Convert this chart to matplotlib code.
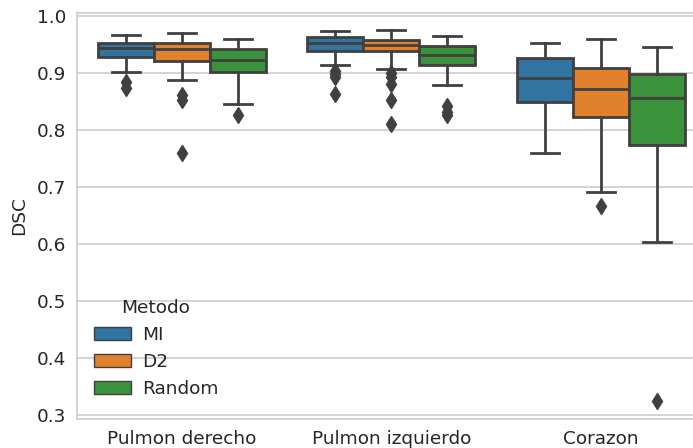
import matplotlib
matplotlib.use("Agg")
import matplotlib.pyplot as plt
import matplotlib.patches as mpatches
import numpy as np

# ---- data ----
organs = ["Pulmon derecho", "Pulmon izquierdo", "Corazon"]
methods = ["MI", "D2", "Random"]
colors = ["#3274a1", "#e1812c", "#3a923a"]

# per organ, per method
whislo = [[0.902, 0.889, 0.846],
          [0.915, 0.908, 0.879],
          [0.760, 0.692, 0.603]]
q1 = [[0.928, 0.921, 0.902],
      [0.940, 0.939, 0.915],
      [0.849, 0.823, 0.775]]
med = [[0.944, 0.943, 0.923],
       [0.954, 0.950, 0.933],
       [0.892, 0.872, 0.857]]
q3 = [[0.954, 0.953, 0.942],
      [0.964, 0.959, 0.948],
      [0.927, 0.909, 0.898]]
whishi = [[0.968, 0.971, 0.961],
          [0.974, 0.977, 0.965],
          [0.954, 0.961, 0.947]]
fliers = [[[0.885, 0.875], [0.862, 0.853, 0.760], [0.826]],
          [[0.905, 0.898, 0.893, 0.863], [0.900, 0.894, 0.882, 0.853, 0.811], [0.842, 0.833, 0.827]],
          [[], [0.667], [0.325]]]
yticks = [0.3, 0.4, 0.5, 0.6, 0.7, 0.8, 0.9, 1.0]

W, H, DPI = 693, 448, 100
fig = plt.figure(figsize=(W / DPI, H / DPI), dpi=DPI)
left, right, top, bottom = 77, 77 + 3 * 209.5, 13, 419
ax = fig.add_axes([left / W, 1 - bottom / H, (right - left) / W, (bottom - top) / H])

line_c = "#404040"
lw = 2.0
bw = 0.8 / 3
for i, org in enumerate(organs):
    for j, m in enumerate(methods):
        pos = i + (j - 1) * bw
        stats = [dict(med=med[i][j], q1=q1[i][j], q3=q3[i][j],
                      whislo=whislo[i][j], whishi=whishi[i][j],
                      fliers=fliers[i][j], label=m)]
        ax.bxp(stats, positions=[pos], widths=bw, patch_artist=True,
               manage_ticks=False,
               boxprops=dict(facecolor=colors[j], edgecolor=line_c, linewidth=lw),
               medianprops=dict(color=line_c, linewidth=lw),
               whiskerprops=dict(color=line_c, linewidth=lw),
               capprops=dict(color=line_c, linewidth=lw),
               flierprops=dict(marker="d", markerfacecolor=line_c,
                               markeredgecolor=line_c, markersize=8, linestyle="none"))

ax.set_xlim(-0.5, 2.5)
ax.set_ylim(0.293, 1.006)
ax.set_xticks(range(len(organs)))
ax.set_xticklabels(organs)
ax.set_yticks(yticks)
ax.set_yticklabels([f"{v:.1f}" for v in yticks])
ax.set_ylabel("DSC", fontsize=13.3, color="#262626", labelpad=6)
ax.tick_params(axis="both", length=0, pad=8, labelsize=13.3, labelcolor="#262626")
ax.yaxis.grid(True, color="#cccccc", linewidth=1.2)
ax.set_axisbelow(True)
for s in ax.spines.values():
    s.set_color("#cccccc")
    s.set_linewidth(1.2)

handles = [mpatches.Patch(facecolor=c, edgecolor=line_c, linewidth=1.0, label=m)
           for m, c in zip(methods, colors)]
leg = ax.legend(handles=handles, title="Metodo", loc="lower left", frameon=False,
                fontsize=13.3, title_fontsize=13.3, handletextpad=0.6,
                bbox_to_anchor=(0.0, 0.01))
for t in leg.get_texts():
    t.set_color("#262626")
leg.get_title().set_color("#262626")

fig.savefig("out.png", dpi=DPI)
